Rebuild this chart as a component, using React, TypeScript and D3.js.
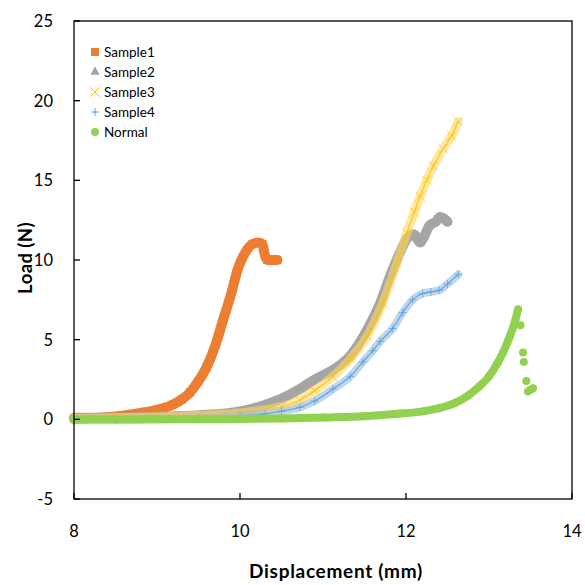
import React from 'react';
import * as d3 from 'd3';

// values (displacement mm, load N)
const sample1: [number, number][] = [
  [8.0, 0.05], [8.3, 0.1], [8.6, 0.25], [8.8, 0.4], [9.0, 0.6], [9.2, 0.95],
  [9.3, 1.25], [9.4, 1.7], [9.5, 2.4], [9.6, 3.3], [9.7, 4.6], [9.8, 6.3],
  [9.9, 8.0], [9.96, 9.2], [10.0, 9.8], [10.08, 10.6], [10.15, 11.0],
  [10.22, 11.1], [10.27, 11.0], [10.3, 10.3], [10.33, 10.0], [10.45, 10.0],
];
const sample2: [number, number][] = [
  [8.0, 0.1], [8.5, 0.1], [9.0, 0.15], [9.5, 0.25], [10.0, 0.5], [10.3, 0.9],
  [10.5, 1.3], [10.72, 1.9], [10.9, 2.5], [11.12, 3.1], [11.33, 4.0],
  [11.53, 5.6], [11.69, 7.3], [11.81, 9.0], [11.93, 10.5], [12.02, 11.4],
  [12.1, 11.6], [12.17, 11.1], [12.22, 11.5], [12.29, 12.2], [12.36, 12.4],
  [12.41, 12.7], [12.46, 12.6], [12.5, 12.4],
];
const sample3: [number, number][] = [
  [8.0, 0.05], [8.5, 0.1], [9.0, 0.15], [9.5, 0.25], [10.0, 0.4], [10.3, 0.6],
  [10.5, 0.8], [10.72, 1.2], [10.9, 1.8], [11.12, 2.7], [11.33, 3.8],
  [11.53, 5.2], [11.72, 7.3], [11.89, 9.8], [12.01, 11.7], [12.1, 13.0],
  [12.17, 14.0], [12.25, 15.0], [12.33, 15.9], [12.45, 17.0], [12.55, 17.8],
  [12.63, 18.7],
];
const sample4: [number, number][] = [
  [8.0, -0.05], [8.5, -0.05], [9.0, 0.0], [9.5, 0.05], [10.0, 0.2], [10.3, 0.35],
  [10.5, 0.5], [10.72, 0.75], [10.9, 1.15], [11.12, 1.9], [11.33, 2.7],
  [11.48, 3.6], [11.6, 4.3], [11.69, 4.9], [11.84, 5.7], [11.96, 6.7],
  [12.08, 7.5], [12.2, 7.9], [12.3, 8.0], [12.4, 8.1], [12.5, 8.5], [12.63, 9.1],
];
const normal: [number, number][] = [
  [8.0, 0.0], [8.5, 0.0], [9.0, 0.0], [9.5, 0.0], [10.0, 0.02], [10.5, 0.06],
  [11.0, 0.12], [11.5, 0.2], [11.9, 0.35], [12.2, 0.5], [12.4, 0.7],
  [12.6, 1.05], [12.75, 1.5], [12.89, 2.1], [13.0, 2.7], [13.1, 3.5],
  [13.17, 4.2], [13.25, 5.2], [13.31, 6.1], [13.35, 6.9],
];
// last few sparse points after the break
const normalTail: [number, number][] = [
  [13.38, 5.9], [13.41, 4.2], [13.42, 3.6], [13.45, 2.4], [13.47, 1.75],
  [13.5, 1.85], [13.53, 1.95],
];

const seriesNames = ['Sample1', 'Sample2', 'Sample3', 'Sample4', 'Normal'];
const xTicks = [8, 10, 12, 14];
const yTicks = [-5, 0, 5, 10, 15, 20, 25];

const FONT = 'Lato, "Open Sans", sans-serif';

export default function App() {
  const x = d3.scaleLinear().domain([8, 14]).range([74, 572]);
  const y = d3.scaleLinear().domain([-5, 25]).range([499, 21]);

  const line = d3.line<[number, number]>()
    .x(d => x(d[0]))
    .y(d => y(d[1]))
    .curve(d3.curveMonotoneX);

  const sym = (type: d3.SymbolType, size: number) => d3.symbol().type(type).size(size)() || '';

  const series = [
    { name: seriesNames[0], data: sample1, tail: [], color: '#ED7D31', band: '#ED7D31', bandW: 10, bandOp: 1,
      mark: sym(d3.symbolSquare, 64), filled: true, center: null, markOp: 1 },
    { name: seriesNames[1], data: sample2, tail: [], color: '#A5A5A5', band: '#A5A5A5', bandW: 10, bandOp: 1,
      mark: sym(d3.symbolTriangle, 38), filled: true, center: null, markOp: 1 },
    { name: seriesNames[2], data: sample3, tail: [], color: '#FFC000', band: '#FFD966', bandW: 9, bandOp: 0.6,
      mark: sym(d3.symbolTimes, 60), filled: false, center: '#FFC000', markOp: 0.7 },
    { name: seriesNames[3], data: sample4, tail: [], color: '#5B9BD5', band: '#9DC3E6', bandW: 8, bandOp: 0.65,
      mark: sym(d3.symbolPlus, 22), filled: false, center: '#5B9BD5', markOp: 0.7 },
    { name: seriesNames[4], data: normal, tail: normalTail, color: '#92D050', band: '#92D050', bandW: 8, bandOp: 1,
      mark: sym(d3.symbolCircle, 50), filled: true, center: null, markOp: 1 },
  ];

  return (
    <svg width={585} height={585} style={{ position: 'absolute', left: 0, top: 0, background: '#fff' }}
      fontFamily={FONT}>
      {/* series */}
      {series.map(s => (
        <g key={s.name}>
          <path d={line(s.data) || ''} fill="none" stroke={s.band} strokeOpacity={s.bandOp}
            strokeWidth={s.bandW} strokeLinejoin="round" strokeLinecap="round" />
          {s.center && (
            <path d={line(s.data) || ''} fill="none" stroke={s.center} strokeWidth={1.3} strokeOpacity={0.8} />
          )}
          {[...s.data, ...s.tail].map((d, i) => (
            <path key={i} d={s.mark} transform={`translate(${x(d[0])},${y(d[1])})`} opacity={s.markOp}
              fill={s.filled ? s.color : 'none'} stroke={s.filled ? 'none' : s.color} strokeWidth={1} />
          ))}
        </g>
      ))}

      {/* plot frame */}
      <rect x={74} y={21} width={498} height={478} fill="none" stroke="#000" strokeWidth={1.3} />

      {/* y axis */}
      {yTicks.map(t => (
        <g key={t}>
          <line x1={74} x2={80} y1={y(t)} y2={y(t)} stroke="#000" strokeWidth={1.3} />
          <text x={53} y={y(t)} dy="0.36em" textAnchor="end" fontSize={16.5} fill="#000">{t}</text>
        </g>
      ))}
      {/* x axis */}
      {xTicks.map(t => (
        <g key={t}>
          <line x1={x(t)} x2={x(t)} y1={499} y2={493} stroke="#000" strokeWidth={1.3} />
          <text x={x(t)} y={537} textAnchor="middle" fontSize={16.5} fill="#000">{t}</text>
        </g>
      ))}

      <text transform="translate(32,258) rotate(-90)" textAnchor="middle" fontSize={18.5} fontWeight="bold"
        letterSpacing={0.4} fill="#000">
        Load (N)
      </text>
      <text x={336} y={578} textAnchor="middle" fontSize={19} fontWeight="bold" letterSpacing={0.7} fill="#000">
        Displacement (mm)
      </text>

      {/* legend */}
      {series.map((s, i) => (
        <g key={s.name} transform={`translate(95,${52 + i * 20})`}>
          <path d={s.mark} fill={s.filled ? s.color : 'none'} stroke={s.filled ? 'none' : s.color} strokeWidth={1} />
          <text x={9} dy="0.35em" fontSize={13.5} fill="#000">{s.name}</text>
        </g>
      ))}
    </svg>
  );
}
